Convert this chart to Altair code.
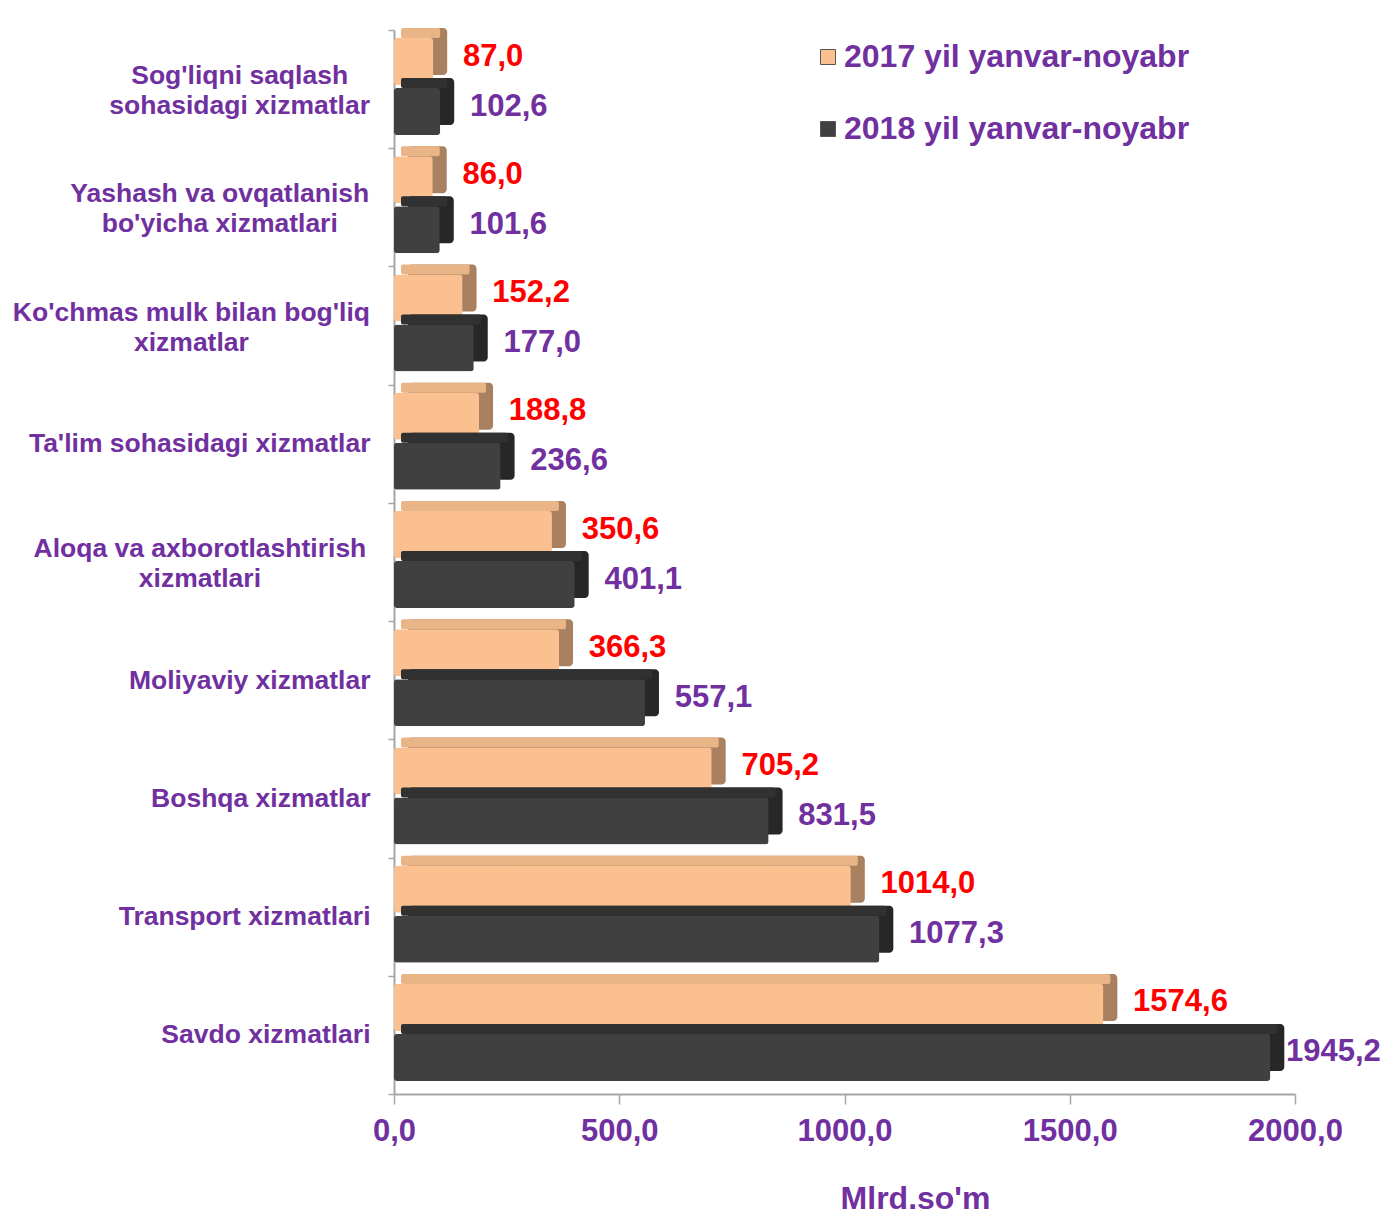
import altair as alt
import pandas as pd

categories = [
    "Sog'liqni saqlash|sohasidagi xizmatlar",
    "Yashash va ovqatlanish|bo'yicha xizmatlari",
    "Ko'chmas mulk bilan bog'liq|xizmatlar",
    "Ta'lim sohasidagi xizmatlar",
    "Aloqa va axborotlashtirish |xizmatlari",
    "Moliyaviy xizmatlar",
    "Boshqa xizmatlar",
    "Transport xizmatlari",
    "Savdo xizmatlari",
]
series = ["2017 yil yanvar-noyabr", "2018 yil yanvar-noyabr"]
v2017 = [87.0, 86.0, 152.2, 188.8, 350.6, 366.3, 705.2, 1014.0, 1574.6]
v2018 = [102.6, 101.6, 177.0, 236.6, 401.1, 557.1, 831.5, 1077.3, 1945.2]
x_ticks = [0, 500, 1000, 1500, 2000]

PURPLE = "#7030a0"
GRAY = "#a6a6a6"
W, H = 901, 1064
XMAX = 2000
DX, DY = 14, 10          # depth of the 3D bars, pixels
BAR_H = 47               # thickness of a bar's front face, pixels
DEPTH_UNITS = DX * XMAX / W
front = {series[0]: "#fac090", series[1]: "#404040"}
top = {series[0]: "#e9b486", series[1]: "#313131"}
side = {series[0]: "#a98160", series[1]: "#272727"}
label_color = {series[0]: "#ff0000", series[1]: PURPLE}
# vertical position of each series' bar relative to the band centre, pixels
slot = {series[0]: -27.5, series[1]: 22.5}

rows = []
for c, a, b in zip(categories, v2017, v2018):
    rows.append({"category": c, "series": series[0], "value": a})
    rows.append({"category": c, "series": series[1], "value": b})
df = pd.DataFrame(rows)

# Arial/Liberation Sans Bold advance widths (per 1000 em), used to centre
# the lines of the two-line category labels as in the original.
ADV = {" ": 278, "'": 238, "a": 556, "b": 611, "c": 556, "d": 611, "e": 556,
       "g": 611, "h": 611, "i": 278, "k": 556, "l": 278, "m": 889, "n": 611,
       "o": 611, "q": 611, "r": 389, "s": 556, "t": 333, "u": 611, "v": 556,
       "x": 556, "y": 556, "z": 500, "A": 722, "K": 722, "S": 667, "Y": 667}
LABEL_FS = 26.5
LABEL_GAP = 24   # from the axis line to the right edge of the labels


def text_w(t):
    return sum(ADV.get(ch, 556) for ch in t) * LABEL_FS / 1000


y_axis = alt.Axis(
    title=None,
    labelExpr="indexof(datum.label, '|') >= 0 ? '' : datum.label",
    labelFontSize=LABEL_FS,
    labelFontWeight="bold",
    labelColor=PURPLE,
    labelPadding=LABEL_GAP - 6,
    labelLimit=500,
    tickSize=6,
    tickColor=GRAY,
    tickWidth=1.5,
    domainColor=GRAY,
    domainWidth=2,
    tickBand="extent",
)
x_axis = alt.Axis(
    values=x_ticks,
    labelExpr="replace(format(datum.value, '.1f'), '.', ',')",
    title="Mlrd.so'm",
    titleFontSize=32,
    titleFontWeight="bold",
    titleColor=PURPLE,
    titleX=521,
    titleY=114,
    titleAlign="center",
    titleBaseline="alphabetic",
    labelFontSize=31,
    labelFontWeight="bold",
    labelColor=PURPLE,
    labelPadding=12,
    labelFlush=False,
    tickSize=10,
    tickColor=GRAY,
    tickWidth=1.5,
    domainColor=GRAY,
    domainWidth=2,
    grid=False,
)

x_scale = alt.Scale(domain=[0, XMAX], nice=False, zero=True)
y_enc = alt.Y(
    "category:N",
    sort=categories,
    scale=alt.Scale(paddingInner=0, paddingOuter=0),
    axis=y_axis,
)

layers = []
for s in series:
    sub = alt.Chart(df).transform_filter(alt.datum.series == s)
    # side face (back block shifted right and up)
    side_face = sub.transform_calculate(
        d_end=f"datum.value + {DEPTH_UNITS}", d_base=f"{DEPTH_UNITS}"
    ).mark_bar(
        color=side[s], cornerRadius=4, height=BAR_H, yOffset=slot[s] - DY
    ).encode(
        x=alt.X("d_end:Q", scale=x_scale, axis=x_axis),
        x2="d_base:Q",
        y=y_enc,
    )
    # top face (thin strip above the front face)
    top_face = sub.transform_calculate(
        t_end=f"datum.value + {DEPTH_UNITS / 2}", t_base=f"{DEPTH_UNITS / 2}"
    ).mark_bar(
        color=top[s], cornerRadius=2, height=DY,
        yOffset=slot[s] - BAR_H / 2 - DY / 2,
    ).encode(
        x=alt.X("t_end:Q", scale=x_scale, axis=x_axis),
        x2="t_base:Q",
        y=y_enc,
    )
    face = sub.mark_bar(cornerRadius=3, height=BAR_H, yOffset=slot[s]).encode(
        x=alt.X("value:Q", scale=x_scale, axis=x_axis),
        y=y_enc,
        color=alt.Color(
            "series:N",
            scale=alt.Scale(domain=series, range=[front[series[0]], front[series[1]]]),
            legend=alt.Legend(
                title=None,
                orient="none",
                legendX=418,
                legendY=11,
                symbolType="square",
                symbolSize=225,
                symbolStrokeColor="#555555",
                symbolStrokeWidth=1,
                labelFontSize=32,
                labelFontWeight="bold",
                labelColor=PURPLE,
                labelLimit=600,
                labelOffset=0,
                rowPadding=40,
                padding=0,
            ),
        ),
    )
    text = sub.transform_calculate(
        label="replace(format(datum.value, '.1f'), '.', ',')",
        label_x="min(datum.value + 66, 1980)",
    ).mark_text(
        align="left",
        baseline="middle",
        dy=slot[s] - 5,
        fontSize=31,
        fontWeight="bold",
        color=label_color[s],
    ).encode(
        x=alt.X("label_x:Q", scale=x_scale, axis=x_axis),
        y=y_enc,
        text="label:N",
    )
    layers += [side_face, top_face, face, text]

# two-line category labels, each line centred on the other
for c in [c for c in categories if "|" in c]:
    centre = -LABEL_GAP - max(text_w(p) for p in c.split("|")) / 2
    lab = (
        alt.Chart(df)
        .transform_filter((alt.datum.category == c) & (alt.datum.series == series[0]))
        .transform_calculate(lines="split(trim(datum.category), '|')")
        .mark_text(
            align="center",
            baseline="middle",
            dy=-13,
            lineHeight=30,
            fontSize=LABEL_FS,
            fontWeight="bold",
            color=PURPLE,
        )
        .encode(x=alt.value(centre), y=y_enc, text="lines:N")
    )
    layers.append(lab)

chart = (
    alt.layer(*layers)
    .properties(
        width=W,
        height=H,
        autosize=alt.AutoSizeParams(type="none"),
        padding={"left": 386, "top": 22, "right": 85, "bottom": 122},
    )
    .configure(font="Liberation Sans")
    .configure_view(stroke=None)
)

chart.save("out.html", embed_options={"renderer": "svg", "actions": False})
